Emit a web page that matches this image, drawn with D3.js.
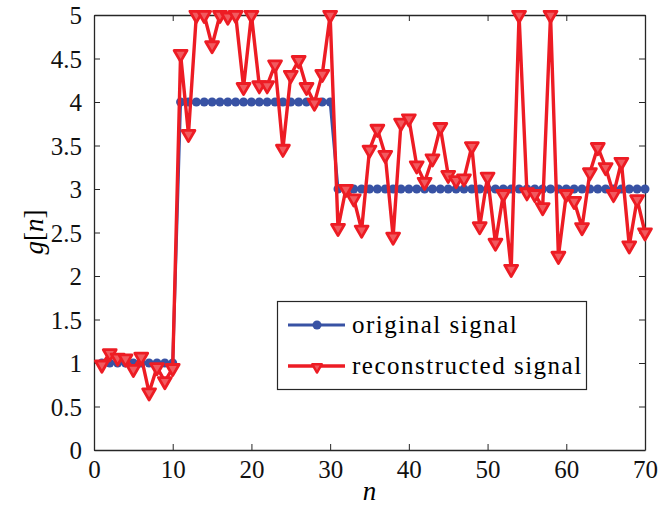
<!DOCTYPE html>
<html>
<head>
<meta charset="utf-8">
<script src="https://cdn.jsdelivr.net/npm/d3@7"></script>
<style>
  html, body { margin: 0; padding: 0; background: #fff; }
</style>
</head>
<body>
<div id="chart"></div>
<script>
// sample index n = 1..70
const nValues = [
  1,2,3,4,5,6,7,8,9,10,11,12,13,14,15,16,17,18,19,20,
  21,22,23,24,25,26,27,28,29,30,31,32,33,34,35,36,37,38,39,40,
  41,42,43,44,45,46,47,48,49,50,51,52,53,54,55,56,57,58,59,60,
  61,62,63,64,65,66,67,68,69,70
]

// original signal g[n]
const originalSignal = [
  1,1,1,1,1,1,1,1,1,1,
  4,4,4,4,4,4,4,4,4,4,4,4,4,4,4,4,4,4,4,4,
  3,3,3,3,3,3,3,3,3,3,3,3,3,3,3,3,3,3,3,3,
  3,3,3,3,3,3,3,3,3,3,3,3,3,3,3,3,3,3,3,3
]

// reconstructed signal
const reconstructedSignal = [
  0.98, 1.11, 1.06, 1.05, 0.93, 1.07, 0.66, 0.95, 0.79, 0.94,
  4.55, 3.63, 5, 5, 4.65, 5, 4.98, 5, 4.17, 5,
  4.19, 4.19, 4.43, 3.46, 4.31, 4.48, 4.17, 3.99, 4.32, 5,
  2.55, 3.0, 2.89, 2.53, 3.45, 3.69, 3.39, 2.45, 3.76, 3.81,
  3.27, 3.08, 3.35, 3.71, 3.16, 3.1, 3.12, 3.49, 2.57, 3.14,
  2.38, 2.94, 2.08, 5, 2.96, 2.94, 2.79, 5, 2.23, 2.94,
  2.86, 2.56, 3.19, 3.48, 3.25, 2.94, 3.31, 2.35, 2.88, 2.5
]

const xTicks = [0, 10, 20, 30, 40, 50, 60, 70]
const yTicks = [0, 0.5, 1, 1.5, 2, 2.5, 3, 3.5, 4, 4.5, 5]
const legendLabels = ['original signal', 'reconstructed signal']

const W = 659, H = 508
const blue = '#3852a4', red = '#ed1c24', axisColor = '#262626'
const serif = '"Liberation Serif"'

const svg = d3.select('#chart').append('svg')
  .attr('width', W).attr('height', H)

const x = d3.scaleLinear().domain([0, 70]).range([94, 645])
const y = d3.scaleLinear().domain([0, 5]).range([450, 15])

const tickLen = 6

// axes box, ticks pointing inward on all four sides
const axB = svg.append('g').attr('transform', `translate(0,${y(0)})`)
  .call(d3.axisBottom(x).tickValues(xTicks).tickSizeInner(-tickLen).tickSizeOuter(0).tickPadding(10).tickFormat(d3.format('d')))
const axT = svg.append('g').attr('transform', `translate(0,${y(5)})`)
  .call(d3.axisTop(x).tickValues(xTicks).tickSizeInner(-tickLen).tickSizeOuter(0).tickFormat(''))
const axL = svg.append('g').attr('transform', `translate(${x(0)},0)`)
  .call(d3.axisLeft(y).tickValues(yTicks).tickSizeInner(-tickLen).tickSizeOuter(0).tickPadding(12).tickFormat(d => String(d)))
const axR = svg.append('g').attr('transform', `translate(${x(70)},0)`)
  .call(d3.axisRight(y).tickValues(yTicks).tickSizeInner(-tickLen).tickSizeOuter(0).tickFormat(''))

;[axB, axT, axL, axR].forEach(a => {
  a.attr('font-family', null)
  a.select('.domain').attr('stroke', axisColor).attr('stroke-width', 1.3)
  a.selectAll('.tick line').attr('stroke', axisColor).attr('stroke-width', 1)
  a.selectAll('text').style('font-family', serif).style('font-size', '25px').attr('fill', '#111')
})
axB.selectAll('text').attr('dy', '0.72em')
axL.selectAll('text').attr('dy', '0.34em')

const pts = nValues.map((n, i) => ({n, g: originalSignal[i], r: reconstructedSignal[i]}))

// original signal
svg.append('path').datum(pts)
  .attr('fill', 'none').attr('stroke', blue).attr('stroke-width', 3)
  .attr('d', d3.line().x(d => x(d.n)).y(d => y(d.g)))
svg.append('g').selectAll('circle').data(pts).enter().append('circle')
  .attr('cx', d => x(d.n)).attr('cy', d => y(d.g)).attr('r', 4.5)
  .attr('fill', blue)

// reconstructed signal
const tri = d3.symbol().type(d3.symbolTriangle).size(72)
const triSmall = d3.symbol().type(d3.symbolTriangle).size(40)
svg.append('path').datum(pts)
  .attr('fill', 'none').attr('stroke', red).attr('stroke-width', 3.4)
  .attr('stroke-linejoin', 'round')
  .attr('d', d3.line().x(d => x(d.n)).y(d => y(d.r)))
svg.append('g').selectAll('path').data(pts).enter().append('path')
  .attr('d', tri)
  .attr('transform', d => `translate(${x(d.n)},${y(d.r)}) rotate(180)`)
  .attr('fill', '#f15a5f').attr('stroke', red).attr('stroke-width', 2.8)
  .attr('stroke-linejoin', 'round')

// axis labels
svg.append('text')
  .attr('x', x(35)).attr('y', 500)
  .attr('text-anchor', 'middle')
  .style('font-family', serif)
  .style('font-size', '27px').style('font-style', 'italic')
  .text('n')

const yl = svg.append('text')
  .attr('transform', 'translate(43,232) rotate(-90)')
  .attr('text-anchor', 'middle')
  .style('font-family', serif)
  .style('font-size', '27px')
yl.append('tspan').style('font-style', 'italic').text('g')
yl.append('tspan').text('[')
yl.append('tspan').style('font-style', 'italic').text('n')
yl.append('tspan').text(']')

// legend
const lg = svg.append('g')
lg.append('rect')
  .attr('x', 277.5).attr('y', 301.5).attr('width', 309).attr('height', 88)
  .attr('fill', '#fff').attr('stroke', axisColor).attr('stroke-width', 1.2)

const rows = [
  {label: legendLabels[0], color: blue, ly: 325, mark: 'circle'},
  {label: legendLabels[1], color: red, ly: 366, mark: 'tri'}
]
rows.forEach(r => {
  lg.append('line')
    .attr('x1', 288).attr('x2', 345).attr('y1', r.ly).attr('y2', r.ly)
    .attr('stroke', r.color).attr('stroke-width', r.mark === 'tri' ? 3.4 : 3)
  if (r.mark === 'circle') {
    lg.append('circle').attr('cx', 317).attr('cy', r.ly).attr('r', 4.5).attr('fill', blue)
  } else {
    lg.append('path').attr('d', triSmall)
      .attr('transform', `translate(317,${r.ly + 1}) rotate(180)`)
      .attr('fill', '#f15a5f').attr('stroke', red).attr('stroke-width', 2.4)
      .attr('stroke-linejoin', 'round')
  }
  lg.append('text')
    .attr('x', 352).attr('y', r.ly).attr('dy', '0.32em')
    .style('font-family', serif)
    .style('font-size', '25px').style('letter-spacing', '1.5px')
    .text(r.label)
})
</script>
</body>
</html>
